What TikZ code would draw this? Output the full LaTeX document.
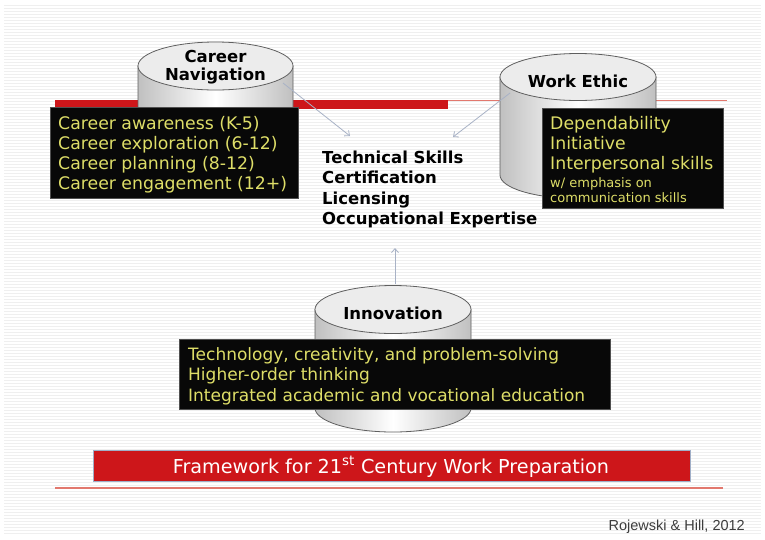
\documentclass[tikz,border=0pt]{standalone}
\usepackage{fontspec}
\setmainfont{DejaVu Sans}
\newfontfamily\banfont{DejaVu Sans}
\newfontfamily\citefont{Liberation Sans}
\usetikzlibrary{arrows.meta}
\definecolor{bgstripe}{RGB}{239,239,239}
\definecolor{ylw}{RGB}{222,222,104}
\definecolor{barred}{RGB}{205,22,26}
\definecolor{thinred}{RGB}{226,120,110}
\definecolor{arrowc}{RGB}{168,178,198}
\definecolor{cylline}{RGB}{95,95,95}
\definecolor{cylgray}{RGB}{192,192,192}
\definecolor{cyltop}{RGB}{236,236,236}
\definecolor{boxline}{RGB}{80,80,80}
\definecolor{banline}{RGB}{160,175,200}
\definecolor{citec}{RGB}{60,60,60}
\newcommand\mycyl[5]{%
  \path[draw=cylline, line width=0.8pt, left color=cylgray, right color=cylgray, middle color=white]
    (#1-#4,#2) -- (#1-#4,#3) arc[start angle=180, end angle=0, x radius=#4, y radius=#5] -- (#1+#4,#2) -- cycle;
  \path[draw=cylline, line width=0.8pt, fill=cyltop] (#1,#2) ellipse[x radius=#4, y radius=#5];
}
\tikzset{
  blackbox/.style={draw=boxline, line width=0.6pt, fill={rgb,255:red,8;green,8;blue,8}, inner sep=0pt, anchor=north west},
  boxtext/.style={text=ylw, align=left, inner sep=0pt, anchor=north west, font=\fontsize{17.3}{20}\selectfont},
  cyltitle/.style={text=black, align=center, inner sep=0pt, font=\bfseries\fontsize{16.5}{18}\selectfont},
  skilltext/.style={text=black, align=left, inner sep=0pt, anchor=north west, font=\bfseries\fontsize{16.5}{20.5}\selectfont},
  conn/.style={arrowc, line width=0.8pt, -{Straight Barb[length=4pt,width=7pt]}}
}
\begin{document}
\begin{tikzpicture}[x=1pt,y=-1pt]
\useasboundingbox (0,0) rectangle (765,539);
\fill[white] (0,0) rectangle (765,539);
\fill[bgstripe] (4,3) rectangle (761,536);
\foreach \i in {0,...,177} \fill[white] (4,3+3*\i) rectangle (761,4.5+3*\i);
% red lines
\draw[thinred, line width=1.3pt] (55,100.5) -- (727,100.5);
\fill[barred] (55,100) rectangle (448,109);
\draw[thinred, line width=1.2pt] (55,488) -- (723,488);
% cylinders
\mycyl{215.5}{66}{150}{77.5}{24}
\mycyl{578}{77}{175}{78}{23.5}
\mycyl{393}{309.5}{408}{78}{24}
\node[cyltitle] (cn) at (215.5,67) {Career\\Navigation};
\node[cyltitle, anchor=base] (we) at (578,87) {Work Ethic};
\node[cyltitle, anchor=base] (inn) at (393,319) {Innovation};
% black boxes
\node[blackbox, minimum width=248pt, minimum height=91pt] (cnbox) at (50,107) {};
\node[boxtext] (cntext) at (58,116) {\rule{0pt}{13pt}Career awareness (K-5)\\Career exploration (6-12)\\Career planning (8-12)\\Career engagement (12+)};
\node[blackbox, minimum width=181pt, minimum height=100pt] (webox) at (542,108) {};
\node[boxtext] (wetext) at (550,116) {\rule{0pt}{13pt}Dependability\\Initiative\\Interpersonal skills};
\node[boxtext, font=\fontsize{13}{15}\selectfont] (wesub) at (550,177) {\rule{0pt}{10pt}w/ emphasis on\\communication skills};
\node[blackbox, minimum width=431pt, minimum height=70pt] (innbox) at (179,339) {};
\node[boxtext, font=\fontsize{17}{20.5}\selectfont] (inntext) at (188,347) {\rule{0pt}{13pt}Technology, creativity, and problem-solving\\Higher-order thinking\\Integrated academic and vocational education};
% center skills
\node[skilltext] (skills) at (322,150) {\rule{0pt}{13pt}Technical Skills\\Certification\\Licensing\\Occupational Expertise};
% connectors
\coordinate (a1s) at (283,83);
\coordinate (a1e) at (350,136);
\coordinate (a2s) at (510,93);
\coordinate (a2e) at (453,137);
\coordinate (a3s) at (395,284);
\coordinate (a3e) at (395,248);
\draw[conn] (a1s) -- (a1e);
\draw[conn] (a2s) -- (a2e);
\draw[conn] (a3s) -- (a3e);
% banner
\node[draw=banline, line width=1.2pt, fill=barred, minimum width=597pt, minimum height=31pt, inner sep=0pt, anchor=north west] (banner) at (93,450) {};
\node[text=white, inner sep=0pt, anchor=base, font=\banfont\fontsize{19.2}{22}\selectfont] (bantext) at (391,473) {Framework for 21\textsuperscript{st} Century Work Preparation};
% citation
\node[text=citec, inner sep=0pt, anchor=base east, font=\citefont\fontsize{14.5}{17}\selectfont] (cite) at (745,530) {Rojewski \& Hill, 2012};
\end{tikzpicture}
\end{document}
